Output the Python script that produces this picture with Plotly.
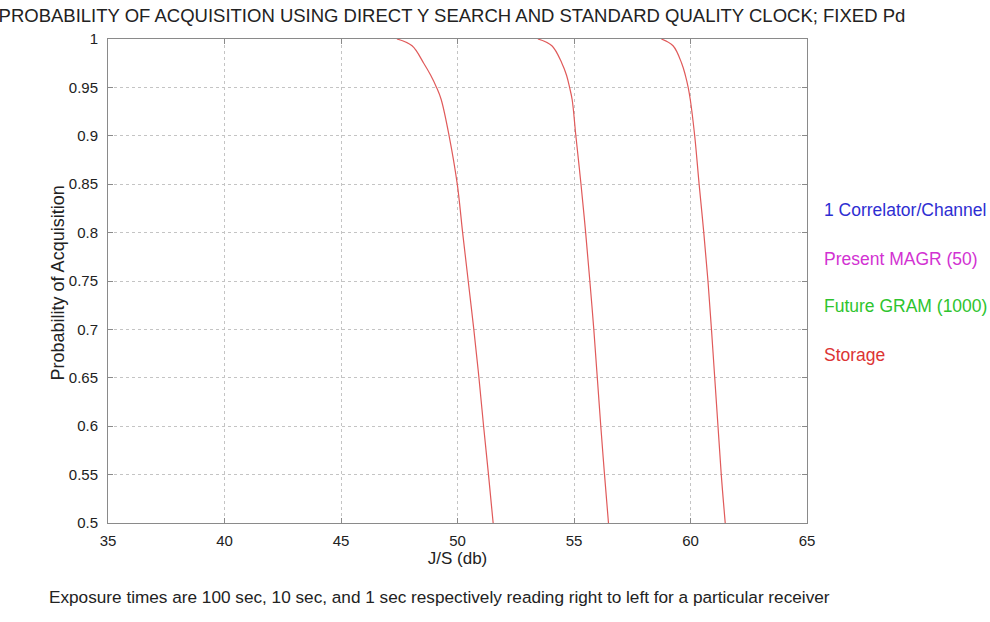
import plotly.graph_objects as go

# J/S (dB) where each exposure curve reaches the given probability of acquisition
prob_levels = [1.0, 0.993, 0.975, 0.9625, 0.95, 0.9375, 0.9, 0.85, 0.8, 0.75, 0.7, 0.65, 0.6, 0.55, 0.5]
js_1sec = [47.4, 48.05, 48.55, 48.85, 49.1, 49.3, 49.64, 49.99, 50.22, 50.46, 50.7, 50.92, 51.12, 51.33, 51.53]
js_10sec = [53.45, 54.05, 54.48, 54.68, 54.81, 54.92, 55.08, 55.3, 55.5, 55.68, 55.85, 56.0, 56.15, 56.31, 56.48]
js_100sec = [58.75, 59.25, 59.62, 59.78, 59.9, 59.99, 60.18, 60.37, 60.57, 60.75, 60.9, 61.04, 61.18, 61.32, 61.49]

x_ticks = [35, 40, 45, 50, 55, 60, 65]
y_ticks = [0.5, 0.55, 0.6, 0.65, 0.7, 0.75, 0.8, 0.85, 0.9, 0.95, 1]
y_tick_text = ["0.5", "0.55", "0.6", "0.65", "0.7", "0.75", "0.8", "0.85", "0.9", "0.95", "1"]

key_labels = ["1 Correlator/Channel", "Present MAGR (50)", "Future GRAM (1000)", "Storage"]
key_colors = ["#2e2ed2", "#d232d2", "#2ec42e", "#dc3434"]
key_levels = [0.823, 0.773, 0.724, 0.674]

FONT = "Liberation Sans, Arial, sans-serif"
INK = "#222222"
CURVE = "#e05a5a"

fig = go.Figure()
for xs in (js_1sec, js_10sec, js_100sec):
    fig.add_trace(go.Scatter(
        x=xs, y=prob_levels, mode="lines",
        line=dict(color=CURVE, width=1.2, shape="spline", smoothing=1.0),
        showlegend=False, hoverinfo="skip",
    ))

axis_common = dict(
    showline=True, linecolor="#8a8a8a", linewidth=1, mirror="allticks",
    ticks="inside", ticklen=5, tickcolor="#8a8a8a",
    showgrid=True, gridcolor="#c4c4c4", griddash="3px,3px", gridwidth=1,
    zeroline=False, tickfont=dict(family=FONT, size=15, color=INK),
)

fig.update_xaxes(
    range=[35, 65], tickvals=x_ticks, ticklabelstandoff=4,
    title=dict(text="J/S (db)", font=dict(family=FONT, size=17, color=INK), standoff=4),
    **axis_common,
)
fig.update_yaxes(
    range=[0.5, 1], tickvals=y_ticks, ticktext=y_tick_text, ticklabelstandoff=6,
    **axis_common,
)

# rotated y-axis title placed as free text
fig.add_annotation(
    x=-0.0715, xref="paper", y=0.495, yref="paper", text="Probability of Acquisition",
    textangle=-90, showarrow=False, xanchor="center", yanchor="middle",
    font=dict(family=FONT, size=18, color=INK),
)

for label, color, lvl in zip(key_labels, key_colors, key_levels):
    fig.add_annotation(
        x=1.0215, xref="paper", y=lvl, yref="y", text=label, showarrow=False,
        xanchor="left", yanchor="middle",
        font=dict(family=FONT, size=17.5, color=color),
    )

fig.add_annotation(
    x=-0.0873, xref="paper", y=-0.153, yref="paper",
    text="Exposure times are 100 sec, 10 sec, and 1 sec respectively reading right to left for a particular receiver",
    showarrow=False, xanchor="left", yanchor="middle",
    font=dict(family=FONT, size=17.2, color=INK),
)

fig.update_layout(
    width=990, height=622,
    margin=dict(l=108, r=183, t=39, b=99),
    paper_bgcolor="white", plot_bgcolor="white",
    title=dict(
        text="PROBABILITY OF ACQUISITION USING DIRECT Y SEARCH AND STANDARD QUALITY CLOCK; FIXED Pd",
        x=0.492, xref="paper", xanchor="center", y=1 - 16 / 622, yanchor="middle",
        font=dict(family=FONT, size=18.5, color=INK),
    ),
)

fig.write_html("out.html")
